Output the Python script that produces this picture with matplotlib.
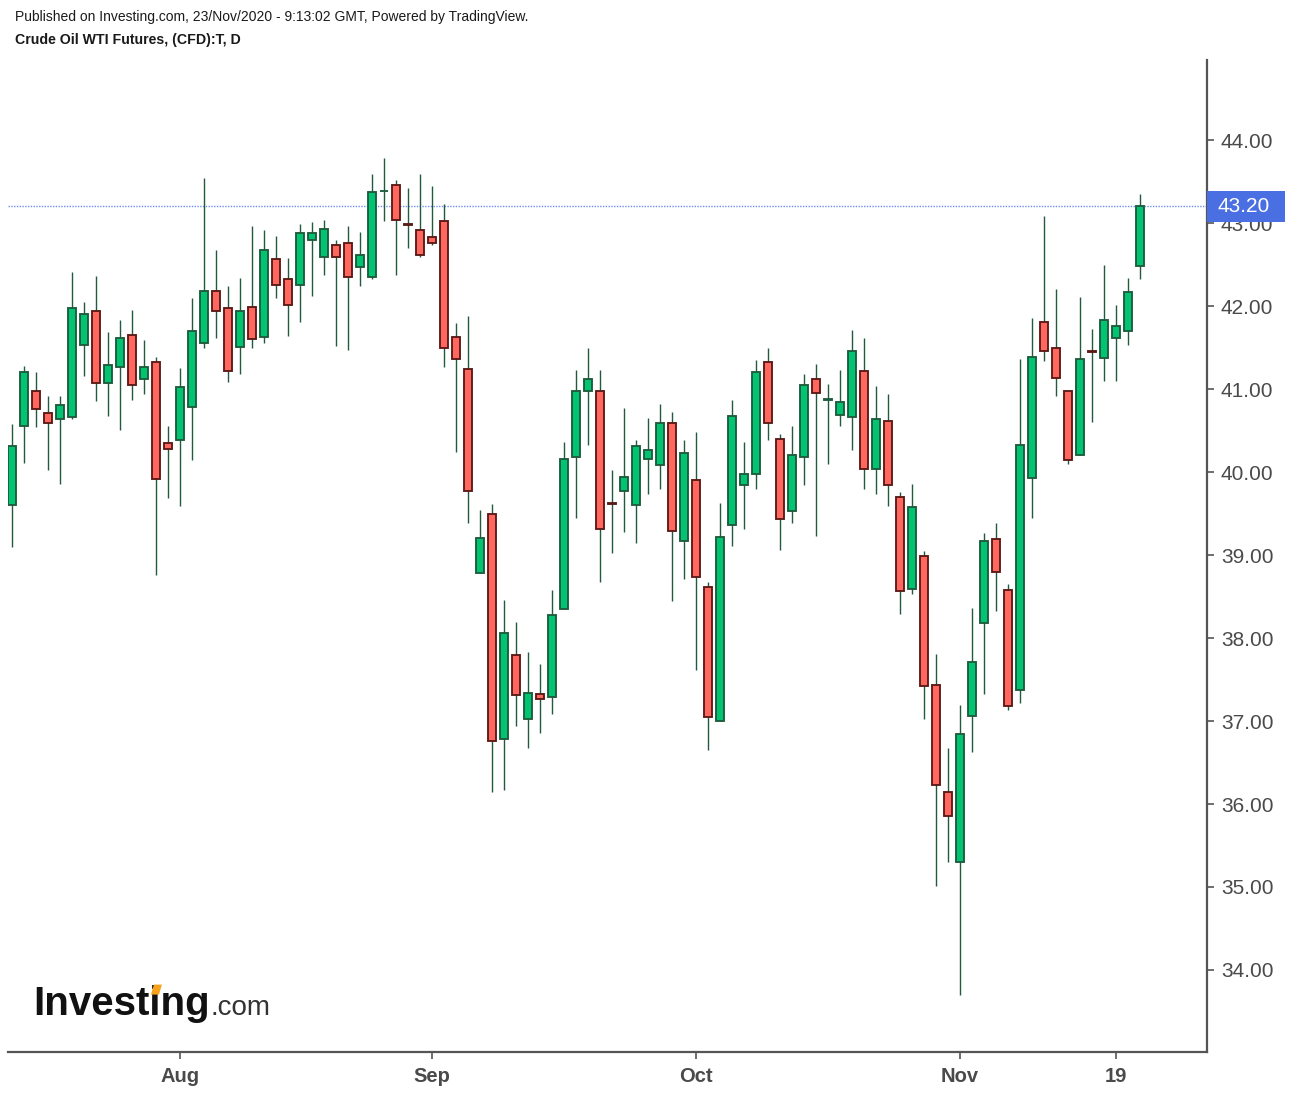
import matplotlib
matplotlib.use('Agg')
import matplotlib.pyplot as plt
import matplotlib.transforms as mtransforms
from matplotlib.patches import Rectangle, Polygon
import numpy as np

plt.rcParams['font.family'] = ['Liberation Sans', 'DejaVu Sans']

# ---- data ----
dates = ['2020-07-14', '2020-07-15', '2020-07-16', '2020-07-17', '2020-07-20', '2020-07-21', '2020-07-22',
         '2020-07-23', '2020-07-24', '2020-07-27', '2020-07-28', '2020-07-29', '2020-07-30', '2020-07-31',
         '2020-08-03', '2020-08-04', '2020-08-05', '2020-08-06', '2020-08-07', '2020-08-10', '2020-08-11',
         '2020-08-12', '2020-08-13', '2020-08-14', '2020-08-17', '2020-08-18', '2020-08-19', '2020-08-20',
         '2020-08-21', '2020-08-24', '2020-08-25', '2020-08-26', '2020-08-27', '2020-08-28', '2020-08-31',
         '2020-09-01', '2020-09-02', '2020-09-03', '2020-09-04', '2020-09-07', '2020-09-08', '2020-09-09',
         '2020-09-10', '2020-09-11', '2020-09-14', '2020-09-15', '2020-09-16', '2020-09-17', '2020-09-18',
         '2020-09-21', '2020-09-22', '2020-09-23', '2020-09-24', '2020-09-25', '2020-09-28', '2020-09-29',
         '2020-09-30', '2020-10-01', '2020-10-02', '2020-10-05', '2020-10-06', '2020-10-07', '2020-10-08',
         '2020-10-09', '2020-10-12', '2020-10-13', '2020-10-14', '2020-10-15', '2020-10-16', '2020-10-19',
         '2020-10-20', '2020-10-21', '2020-10-22', '2020-10-23', '2020-10-26', '2020-10-27', '2020-10-28',
         '2020-10-29', '2020-10-30', '2020-11-02', '2020-11-03', '2020-11-04', '2020-11-05', '2020-11-06',
         '2020-11-09', '2020-11-10', '2020-11-11', '2020-11-12', '2020-11-13', '2020-11-16', '2020-11-17',
         '2020-11-18', '2020-11-19', '2020-11-20', '2020-11-23']

opens = [39.60, 40.55, 40.98, 40.71, 40.64, 40.66, 41.53, 41.94, 41.07, 41.26, 41.65, 41.12, 41.32, 40.35,
         40.39, 40.78, 41.55, 42.18, 41.97, 41.51, 41.99, 41.63, 42.57, 42.33, 42.25, 42.79, 42.59, 42.74,
         42.76, 42.47, 42.35, 43.38, 43.46, 42.99, 42.91, 42.83, 43.03, 41.63, 41.24, 38.78, 39.49, 36.78,
         37.80, 37.02, 37.32, 37.29, 38.35, 40.18, 40.98, 40.98, 39.63, 39.77, 39.60, 40.16, 40.08, 40.59,
         39.17, 39.90, 38.62, 37.00, 39.36, 39.84, 39.98, 41.32, 40.40, 39.53, 40.18, 41.12, 40.87, 40.69,
         40.66, 41.22, 40.04, 40.62, 39.70, 38.59, 38.99, 37.43, 36.14, 35.30, 37.06, 38.18, 39.19, 38.58,
         37.37, 39.93, 41.81, 41.50, 40.97, 40.20, 41.46, 41.37, 41.61, 41.70, 42.48]

highs = [40.58, 41.28, 41.21, 40.92, 40.92, 42.41, 42.05, 42.36, 41.69, 41.83, 41.95, 41.59, 41.39, 40.55,
         41.25, 42.10, 43.54, 42.67, 42.24, 42.34, 42.96, 42.92, 42.84, 42.58, 42.99, 43.01, 43.04, 42.80,
         42.96, 42.89, 43.59, 43.78, 43.52, 43.42, 43.59, 43.45, 43.23, 41.80, 41.88, 39.54, 39.61, 38.46,
         38.19, 37.83, 37.69, 38.58, 40.36, 41.23, 41.49, 41.23, 40.02, 40.77, 40.39, 40.65, 40.82, 40.72,
         40.39, 40.48, 38.67, 39.63, 40.87, 40.36, 41.35, 41.49, 40.46, 40.55, 41.18, 41.30, 41.06, 41.23,
         41.71, 41.61, 41.04, 40.94, 39.76, 39.86, 39.05, 37.81, 36.67, 37.19, 38.36, 39.27, 39.39, 38.65,
         41.36, 41.86, 43.09, 42.20, 40.97, 42.11, 41.72, 42.49, 42.01, 42.34, 43.35]

lows = [39.10, 40.11, 40.54, 40.02, 39.86, 40.64, 41.16, 40.85, 40.68, 40.51, 40.87, 40.94, 38.76, 39.69,
        39.59, 40.15, 41.50, 41.62, 41.09, 41.18, 41.50, 41.55, 42.10, 41.64, 41.81, 42.12, 42.37, 41.52,
        41.47, 42.24, 42.32, 43.02, 42.37, 42.70, 42.59, 42.73, 41.26, 40.24, 39.38, 38.78, 36.15, 36.17,
        36.94, 36.68, 36.85, 37.09, 38.35, 39.45, 40.32, 38.68, 39.02, 39.28, 39.14, 39.74, 39.79, 38.44,
        38.71, 37.62, 36.65, 37.00, 39.11, 39.31, 39.79, 40.39, 39.06, 39.38, 39.84, 39.23, 40.10, 40.56,
        40.27, 39.79, 39.74, 39.59, 38.29, 38.53, 37.03, 35.01, 35.30, 33.70, 36.63, 37.32, 38.32, 37.13,
        37.22, 39.45, 41.34, 40.91, 40.10, 40.20, 40.60, 41.10, 41.10, 41.53, 42.32]

closes = [40.31, 41.20, 40.76, 40.59, 40.81, 41.97, 41.90, 41.07, 41.29, 41.61, 41.05, 41.27, 39.91, 40.28,
          41.03, 41.70, 42.18, 41.94, 41.22, 41.94, 41.60, 42.67, 42.25, 42.01, 42.88, 42.88, 42.93, 42.59,
          42.35, 42.62, 43.37, 43.39, 43.04, 42.98, 42.61, 42.76, 41.50, 41.36, 39.77, 39.20, 36.76, 38.06,
          37.31, 37.34, 37.26, 38.28, 40.16, 40.98, 41.12, 39.31, 39.62, 39.94, 40.31, 40.26, 40.59, 39.29,
          40.23, 38.73, 37.05, 39.22, 40.67, 39.97, 41.20, 40.59, 39.43, 40.21, 41.05, 40.95, 40.88, 40.84,
          41.46, 40.04, 40.64, 39.84, 38.57, 39.58, 37.42, 36.23, 35.85, 36.84, 37.71, 39.17, 38.80, 37.18,
          40.32, 41.38, 41.46, 41.13, 40.15, 41.36, 41.45, 41.83, 41.76, 42.17, 43.20]

tick_dates = ['2020-08-03', '2020-09-01', '2020-10-01', '2020-11-02', '2020-11-19']
tick_labels = ['Aug', 'Sep', 'Oct', 'Nov', '19']
price_ticks = [34.0, 35.0, 36.0, 37.0, 38.0, 39.0, 40.0, 41.0, 42.0, 43.0, 44.0]
last_price = 43.20

header = 'Published on Investing.com, 23/Nov/2020 - 9:13:02 GMT, Powered by TradingView.'
title = 'Crude Oil WTI Futures, (CFD):T, D'

# ---- styling ----
W, H = 1290, 1094
UP_FILL, UP_EDGE = '#00c472', '#1f5c3d'
DN_FILL, DN_EDGE = '#ff675f', '#5c1a17'
WICK = '#215a3c'
AXIS = '#555555'
TXT = '#4a4a4a'

fig = plt.figure(figsize=(W / 100, H / 100), dpi=100)
ax = fig.add_axes([8 / W, 1 - 1052 / H, (1207 - 8) / W, (1052 - 60) / H])

o = np.array(opens); h = np.array(highs); l = np.array(lows); c = np.array(closes)
x = np.arange(len(dates))
up = c >= o
fills = np.where(up, UP_FILL, DN_FILL)
edges = np.where(up, UP_EDGE, DN_EDGE)
body_bottom = np.minimum(o, c)
body_h = np.maximum(np.abs(c - o), 0.004)

ax.vlines(x, l, h, color=WICK, lw=1.0, zorder=2)
ax.bar(x, body_h, bottom=body_bottom, width=0.6, color=fills, edgecolor=edges,
       linewidth=1.35, zorder=3)

ax.set_xlim(-0.333, 99.58)
ax.set_ylim(33.012, 44.964)

for s in ['left', 'top']:
    ax.spines[s].set_visible(False)
for s in ['bottom', 'right']:
    ax.spines[s].set_color(AXIS)
    ax.spines[s].set_linewidth(1.6)

ax.yaxis.tick_right()
ax.set_yticks(price_ticks)
ax.set_yticklabels(['%.2f' % p for p in price_ticks])
ax.tick_params(axis='y', length=5, width=1.2, color=AXIS, labelsize=15, labelcolor=TXT, pad=5)

ax.set_xticks([dates.index(d) for d in tick_dates])
ax.set_xticklabels(tick_labels, fontweight='bold')
ax.tick_params(axis='x', length=5, width=1.2, color=AXIS, labelsize=14.5, labelcolor=TXT, pad=5.5)

# last price line + label
ax.axhline(last_price, color='#6f8ff0', ls=(0, (1, 1)), lw=1.0, zorder=1)
trans = mtransforms.blended_transform_factory(ax.transAxes, ax.transData)
box_h = 31 / 83.0
ax.add_patch(Rectangle((1.0, last_price - box_h / 2), 78 / 1199, box_h, transform=trans,
                       facecolor='#4a6fe3', edgecolor='none', clip_on=False, zorder=10))
ax.text(1.0 + 11 / 1199, last_price, '%.2f' % last_price, transform=trans, ha='left', va='center',
        color='white', fontsize=15, zorder=11, clip_on=False)

# header
fig.text(15 / W, 1 - 17 / H, header, fontsize=10, color='#1a1a1a', va='center', ha='left')
fig.text(15 / W, 1 - 40 / H, title, fontsize=10.2, color='#1a1a1a', va='center', ha='left',
         fontweight='bold')

# watermark logo
logo_kw = dict(fontsize=29, fontweight='bold', va='center', ha='left')
lx, ly = 33 / W, 1 - 1004 / H
t1 = fig.text(lx, ly, 'Investing', color='#111111', **logo_kw)
fig.canvas.draw()
r = fig.canvas.get_renderer()
bb = t1.get_window_extent(r)
tmp = fig.text(lx, ly, 'Invest', color='none', **logo_kw)
bb_a = tmp.get_window_extent(r)
tmp.remove()
tmp = fig.text(lx, ly, 'Investi', color='none', **logo_kw)
bb_b = tmp.get_window_extent(r)
tmp.remove()
cx = (bb_a.x1 + bb_b.x1) / 2
top = bb.y1 - 0.20 * bb.height + 6
dot = Polygon([(cx - 4, top - 8), (cx + 4, top - 8), (cx + 7, top + 2), (cx - 1, top + 2)],
              closed=True, transform=None, facecolor='#f7a21b', edgecolor='none', zorder=20)
fig.patches.append(dot)
fig.text((bb.x1 + 1) / W, 1 - 1008 / H, '.com', fontsize=20, color='#333333', va='center', ha='left')

fig.savefig('out.png', dpi=100)
